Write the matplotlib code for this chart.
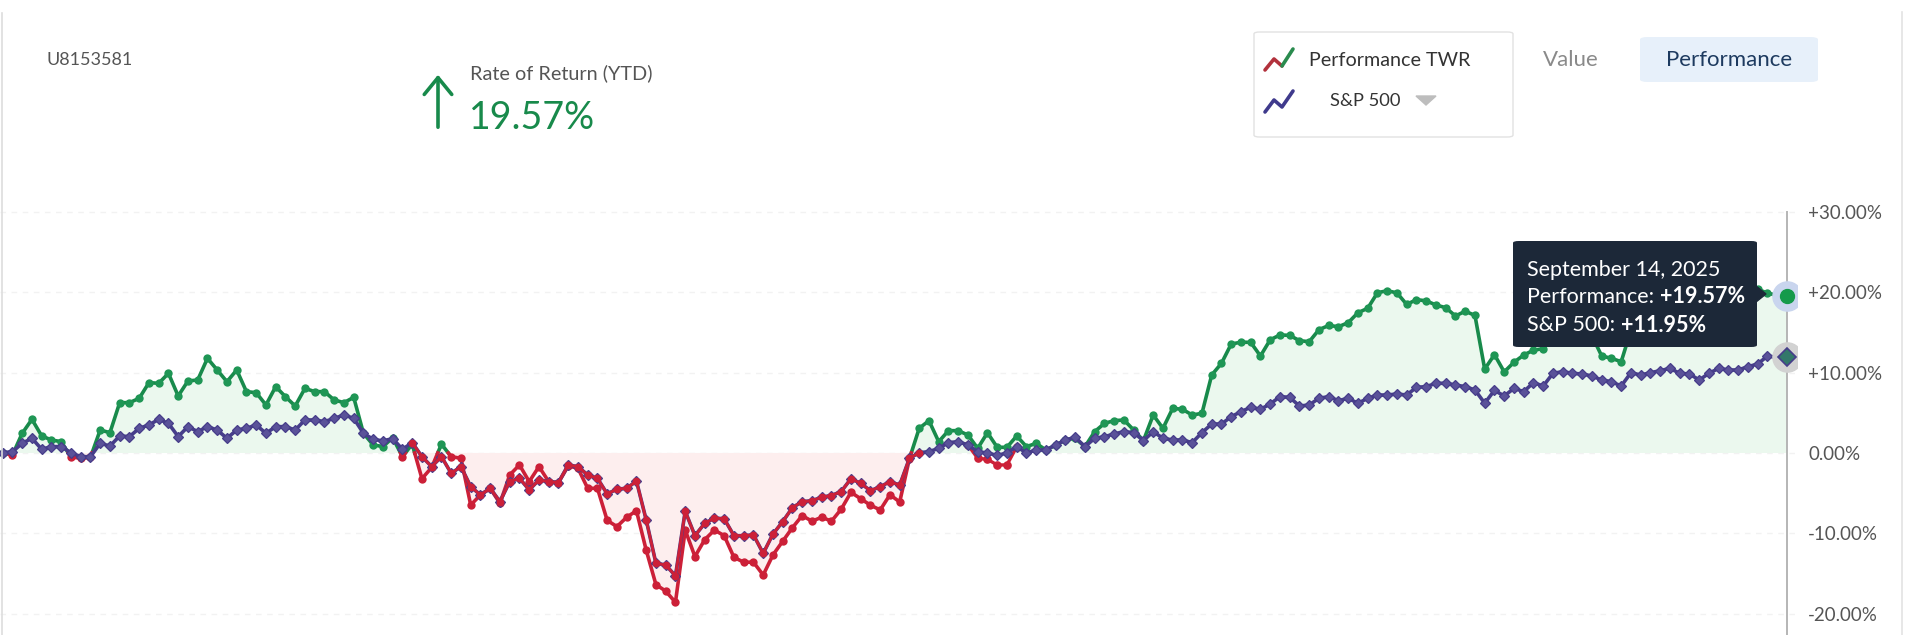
import numpy as np
import matplotlib
matplotlib.use("Agg")
import matplotlib.pyplot as plt
from matplotlib.patches import FancyBboxPatch, FancyArrowPatch, Polygon
from matplotlib.lines import Line2D

plt.rcParams['font.family'] = ['Lato', 'DejaVu Sans']

# ---- data (daily YTD return, %) ----
perf = [0.0, -0.25, 2.45, 4.19, 2.12, 1.62, 1.41, -0.5, -0.65, -0.55,
        2.86, 2.53, 6.27, 6.27, 6.81, 8.76, 8.68, 9.92, 7.10, 8.97,
        9.09, 11.79, 10.34, 8.88, 10.34, 7.64, 7.51, 5.98, 8.26, 7.01,
        5.85, 8.05, 7.64, 7.64, 6.60, 6.27, 6.93, 2.45, 1.0, 0.8,
        1.9, -0.46, 1.1, -3.2, -1.8, 1.1, -0.46, -0.66, -6.48, -5.23,
        -4.4, -6.27, -2.74, -1.49, -3.57, -1.7, -3.57, -3.69, -1.62, -1.9,
        -4.4, -4.4, -8.4, -9.17, -8.0, -7.2, -12.1, -16.4, -17.2, -18.6,
        -9.6, -12.9, -10.8, -9.6, -10.3, -13.0, -13.6, -13.6, -15.2, -12.7,
        -11.0, -9.3, -7.8, -8.5, -8.0, -8.5, -7.0, -4.9, -5.7, -6.5,
        -7.1, -5.2, -6.1, -0.7, 3.07, 4.03, 1.41, 2.78, 2.78, 2.24,
        0.58, 2.53, 0.71, 0.71, 2.12, 0.79, 1.2, 0.37, 1.0, 1.62,
        1.83, 0.79, 2.66, 3.69, 4.03, 4.11, 2.86, 1.54, 4.73, 3.07,
        5.56, 5.44, 4.73, 4.94, 9.71, 11.17, 13.57, 13.8, 13.78, 12.08,
        14.1, 14.7, 14.65, 13.99, 13.86, 15.36, 15.88, 15.73, 16.23, 17.47,
        18.02, 19.96, 20.21, 19.94, 18.5, 19.1, 18.95, 18.43, 18.1, 17.06,
        17.66, 17.13, 10.45, 12.25, 10.1, 11.3, 12.2, 12.8, 13.0, 14.5,
        15.2, 15.0, 14.8, 14.6, 12.08, 11.79, 11.37, 15.3, 16.0, 16.5,
        17.2, 17.8, 17.0, 17.3, 16.6, 17.6, 18.3, 18.5, 18.8, 19.5,
        20.4, 19.9, 19.65, 19.57]

spx = [0.04, 0.16, 1.2, 1.83, 0.46, 0.79, 0.79, 0.04, -0.46, -0.46,
       1.2, 0.87, 2.12, 2.04, 3.07, 3.49, 4.19, 3.69, 2.04, 3.28,
       2.66, 3.28, 2.86, 1.83, 2.86, 3.07, 3.49, 2.45, 3.28, 3.28,
       2.86, 4.11, 4.11, 3.9, 4.32, 4.73, 4.32, 2.45, 1.7, 1.5,
       1.8, 0.45, 1.3, -0.46, -1.7, -0.46, -2.53, -1.7, -4.19, -5.23,
       -4.4, -6.06, -3.57, -3.15, -4.6, -3.36, -3.57, -3.69, -1.49, -1.7,
       -2.74, -3.15, -5.1, -4.5, -4.4, -3.5, -8.34, -13.74, -13.95, -15.3,
       -7.25, -10.3, -8.76, -8.1, -8.2, -10.3, -10.3, -10.2, -12.5, -10.1,
       -8.55, -6.8, -6.06, -5.95, -5.5, -5.3, -4.8, -3.2, -3.78, -4.7,
       -4.2, -3.57, -4.0, -0.66, 0.04, 0.16, 0.58, 1.29, 1.41, 1.0,
       0.16, 0.0, -0.3, 0.0, 0.79, 0.0, 0.37, 0.37, 1.0, 1.62,
       1.95, 0.79, 1.83, 2.03, 2.37, 2.66, 2.53, 1.54, 2.66, 1.83,
       1.62, 1.62, 1.29, 2.53, 3.61, 3.61, 4.52, 5.15, 5.69, 5.44,
       6.10, 7.02, 6.93, 5.85, 5.98, 6.81, 7.02, 6.52, 6.81, 6.19,
       6.81, 7.22, 7.22, 7.35, 7.22, 8.18, 8.26, 8.68, 8.68, 8.47,
       8.26, 7.85, 6.2, 7.8, 7.1, 8.05, 7.64, 8.76, 8.34, 9.92,
       10.13, 9.92, 9.84, 9.59, 9.09, 8.88, 8.34, 10.0, 9.71, 10.0,
       10.25, 10.54, 9.92, 9.84, 9.09, 9.92, 10.54, 10.34, 10.34, 10.75,
       11.08, 12.08, 11.91, 11.95]

# red trace shown over the benchmark while it sits below zero
sp_red_span = (42, 94)
dip_idx = [99, 100, 101, 102, 103, 104]
dip_vals = [1.0, -0.66, -0.79, -1.49, -1.49, 0.79]

yticks = [-20, -10, 0, 10, 20, 30]
ytick_labels = ['-20.00%', '-10.00%', '0.00%', '+10.00%', '+20.00%', '+30.00%']
tip_date = 'September 14, 2025'

GREEN = '#188a4b'
RED = '#cc2038'
PURPLE = '#463d8a'
W, H = 1920, 635


def fx(px):
    return px / W


def fy(py):
    return 1 - py / H


fig = plt.figure(figsize=(W / 100, H / 100), dpi=100)
ax = fig.add_axes([0, 0, 1797 / W, (H - 160) / H])
ax.set_xlim(-0.277, 184.03)
ax.set_ylim(-22.67, 36.49)
for sp in ax.spines.values():
    sp.set_visible(False)
ax.set_xticks([])
ax.yaxis.tick_right()
ax.set_yticks(yticks)
ax.set_yticklabels(ytick_labels)
ax.tick_params(axis='y', length=0, pad=8, labelsize=13.5, labelcolor='#555555')
ax.patch.set_alpha(0)

n = len(perf)
x = np.arange(n)
p = np.array(perf)
s = np.array(spx)

for yv in yticks:
    ax.axhline(yv, color='#f2f2f2', lw=1, ls=(0, (4, 4)), zorder=0.5)

# split performance at zero crossings
xs, ys = [x[0]], [p[0]]
for i in range(1, n):
    if p[i - 1] * p[i] < 0:
        t = p[i - 1] / (p[i - 1] - p[i])
        xs.append(x[i - 1] + t)
        ys.append(0.0)
    xs.append(x[i])
    ys.append(p[i])
xs = np.array(xs, dtype=float)
ys = np.array(ys)

ax.fill_between(xs, ys, 0, where=ys >= 0, color='#ebf8ee', interpolate=True, zorder=1, lw=0)
ax.fill_between(xs, ys, 0, where=ys <= 0, color='#fdeeee', interpolate=True, zorder=1, lw=0)

pos = np.ma.masked_where(ys < 0, ys)
neg = np.ma.masked_where(ys > 0, ys)
ax.plot(xs, pos, color=GREEN, lw=2.6, zorder=3, solid_joinstyle='round')
ax.plot(xs, neg, color=RED, lw=2.6, zorder=3, solid_joinstyle='round')
ax.scatter(x[p >= 0], p[p >= 0], s=36, color='#1f9655', zorder=3.2, lw=0)
ax.scatter(x[p < 0], p[p < 0], s=36, color=RED, zorder=3.2, lw=0)

# benchmark
ax.plot(x, s, color=PURPLE, lw=2.6, zorder=4, marker='D', ms=5.4,
        mfc='#5a5299', mec=PURPLE, mew=0.9)
a, b = sp_red_span
ax.plot(x[a:b + 1], s[a:b + 1], color=RED, lw=2.1, zorder=4.2, marker='o', ms=4.6,
        mfc=RED, mec=RED)
ax.plot(dip_idx, dip_vals, color=RED, lw=2.4, zorder=2.9, marker='o', ms=5.2,
        mfc=RED, mec=RED)

# crosshair + hovered points
last = n - 1
ax.plot([last, last], [30, -22.67], color='#b5b5b5', lw=1.4, zorder=2)
ax.plot(last, p[-1], 'o', ms=21, color='#c9d5ee', zorder=5)
ax.plot(last, p[-1], 'o', ms=10, color='#159a4b', zorder=5.1)
ax.plot(last, s[-1], 'o', ms=21, color='#d2d2d2', zorder=5)
ax.plot(last, s[-1], 'D', ms=9, mfc='#33786a', mec=PURPLE, mew=1.2, zorder=5.1)

# page borders
fig.add_artist(Line2D([fx(2), fx(2)], [fy(13), 0], color='#dddddd', lw=1.2))
fig.add_artist(Line2D([fx(1902), fx(1902)], [fy(12), 0], color='#e3e3e3', lw=1.2))

# header
fig.text(fx(46), fy(60), 'U8153581', fontsize=13, color='#555555', va='center')
fig.add_artist(FancyArrowPatch((fx(438), fy(130)), (fx(438), fy(72)),
                               transform=fig.transFigure, arrowstyle='->,head_length=0.55,head_width=0.45',
                               mutation_scale=22, color=GREEN, lw=2.6))
fig.text(fx(470), fy(73), 'Rate of Return (YTD)', fontsize=14.3, color='#555555', va='center')
fig.text(fx(469), fy(118), '19.57%', fontsize=27, color=GREEN, va='center')

# legend box
fig.add_artist(FancyBboxPatch((fx(1254), fy(137)), fx(259), (137 - 32) / H,
                              boxstyle='round,pad=0,rounding_size=0.003', transform=fig.transFigure,
                              fc='white', ec='#e2e2e2', lw=1.0))
fig.add_artist(Line2D([fx(1265), fx(1274), fx(1282)], [fy(70), fy(59), fy(66)],
                      color='#b2313c', lw=2.6, solid_capstyle='round'))
fig.add_artist(Line2D([fx(1282), fx(1293)], [fy(66), fy(49)], color='#2a8b4e', lw=2.6,
                      solid_capstyle='round'))
fig.add_artist(Line2D([fx(1265), fx(1274), fx(1282), fx(1293)],
                      [fy(112), fy(100), fy(107), fy(91)], color='#3f3a8c', lw=2.6,
                      solid_capstyle='round'))
fig.text(fx(1309), fy(60), 'Performance TWR', fontsize=14.2, color='#333333', va='center')
fig.text(fx(1330), fy(101), 'S&P 500', fontsize=13.2, color='#333333', va='center')
fig.add_artist(Polygon([(fx(1416), fy(96)), (fx(1436), fy(96)), (fx(1426), fy(105))],
                       closed=True, transform=fig.transFigure, color='#bdbdbd'))
fig.text(fx(1543), fy(60), 'Value', fontsize=16, color='#8a8a8a', va='center')
fig.add_artist(FancyBboxPatch((fx(1640), fy(82)), fx(178), 45 / H,
                              boxstyle='round,pad=0,rounding_size=0.004', transform=fig.transFigure,
                              fc='#e7f0fa', ec='none'))
fig.text(fx(1729), fy(60), 'Performance', fontsize=16, color='#1d3a5f', va='center', ha='center')

# tooltip
tip = FancyBboxPatch((fx(1513), fy(347)), fx(244), (347 - 241) / H,
                     boxstyle='round,pad=0,rounding_size=0.003', transform=fig.transFigure,
                     fc='#1c2838', ec='none', zorder=10)
fig.add_artist(tip)
fig.add_artist(Polygon([(fx(1756), fy(286)), (fx(1766), fy(294)), (fx(1756), fy(302))],
                       closed=True, transform=fig.transFigure, color='#1c2838', zorder=10))
fig.text(fx(1527), fy(270), tip_date, fontsize=15.5, color='white', va='center', zorder=11)
renderer = fig.canvas.get_renderer()
rows = [('Performance: ', '+%.2f%%' % p[-1], 297), ('S&P 500: ', '+%.2f%%' % s[-1], 325)]
for lab, val, py in rows:
    t = fig.text(fx(1527), fy(py), lab, fontsize=15.5, color='white', va='center', zorder=11)
    bb = t.get_window_extent(renderer)
    fig.text(bb.x1 / W, fy(py), val, fontsize=15.5, color='white', weight='bold',
             va='center', zorder=11)

fig.savefig('out.png', dpi=100, facecolor='white')
